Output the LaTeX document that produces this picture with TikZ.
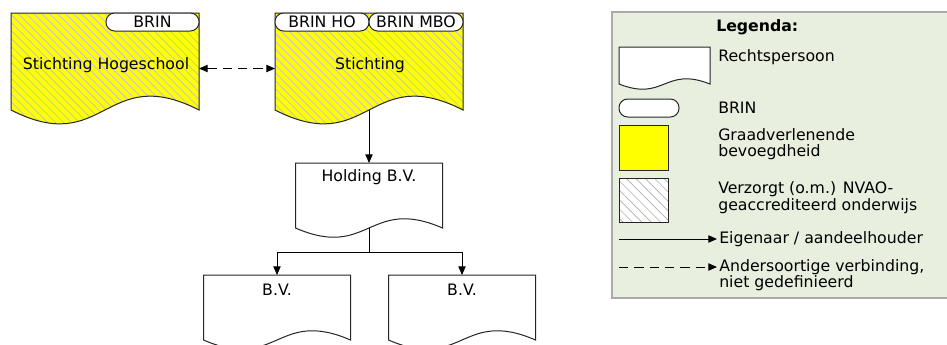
\documentclass[tikz,border=0pt]{standalone}
\usepackage{fontspec}
\setmainfont{DejaVu Sans}
\usetikzlibrary{arrows.meta,positioning,calc,patterns.meta}
\definecolor{geel}{RGB}{255,255,0}
\definecolor{arcering}{RGB}{192,192,226}
\definecolor{grijslijn}{RGB}{175,175,175}
\definecolor{legkleur}{RGB}{233,239,223}
\definecolor{legrand}{RGB}{170,170,170}
% rechtspersoon: rechthoek met golvende onderkant
\newcommand{\docvorm}[2]{(#1.north west) -- (#1.north east) -- (#1.south east)
  .. controls ($(#1.south)+(0,-#2)$) and ($(#1.south)+(0,#2)$) .. (#1.south west) -- cycle}

\begin{document}
\begin{tikzpicture}[x=0.75pt,y=-0.75pt,
    every node/.style={font=\fontsize{11.8}{12.5}\selectfont},
    vak/.style={inner sep=0pt, outer sep=0pt},
    groot/.style={vak, minimum width=141pt, minimum height=72.75pt},
    klein/.style={vak, minimum width=110.25pt, minimum height=48.75pt},
    rand/.style={draw=black!85, line width=0.75pt},
    graad/.style={rand, preaction={fill=geel}, pattern={Lines[angle=-45,distance=4.2pt,line width=0.6pt]}, pattern color=arcering},
    brin/.style={vak, rand, fill=white, rounded corners=6.5pt, minimum height=13.5pt},
    tekst/.style={anchor=west, align=left, inner sep=0pt},
    eigen/.style={line width=0.75pt, -{Triangle[length=6.5pt,width=5.5pt]}},
    anders/.style={eigen, dash pattern=on 7pt off 4.5pt},
    beide/.style={anders, {Triangle[length=6.5pt,width=5.5pt]}-{Triangle[length=6.5pt,width=5.5pt]}}]
    \useasboundingbox (0,0) rectangle (947,344);
    \clip (0,0) rectangle (947,344);
    % Boven: stichtingen
    \node[groot] (hs) at (105,61.5) {};
    \draw[graad] \docvorm{hs}{48};
    \node (hsnaam) at (106,65) {Stichting Hogeschool};
    \node[brin, minimum width=69.75pt, anchor=north east] (hsbrin) at (hs.north east) {BRIN};
    \node[groot] (st) at (369,61.5) {};
    \draw[graad] \docvorm{st}{48};
    \node (stnaam) at (370,65) {Stichting};
    \node[brin, minimum width=70.5pt, anchor=north west] (stho) at (st.north west) {BRIN HO};
    \node[brin, minimum width=70.5pt, anchor=north east] (stmbo) at (st.north east) {BRIN MBO};
    \draw[beide] ([yshift=-5.25pt]hs.east) -- ([yshift=-5.25pt]st.west);
    % Midden: holding
    \node[klein] (hold) at (369,195.5) {};
    \draw[rand, fill=white] \docvorm{hold}{32};
    \node (holdnaam) at (369,177) {Holding B.V.};
    \draw[eigen] (st.south) -- (hold.north);
    % Onder: werkmaatschappijen
    \node[klein] (bv1) at (277,307.5) {};
    \draw[rand, fill=white] \docvorm{bv1}{32};
    \node (bv1naam) at (277,290) {B.V.};
    \node[klein] (bv2) at (462,307.5) {};
    \draw[rand, fill=white] \docvorm{bv2}{32};
    \node (bv2naam) at (462,290) {B.V.};
    \coordinate (splitsing) at (369,252);
    \draw[line width=0.75pt] (hold.south) -- (splitsing);
    \draw[eigen] (splitsing) -| (bv1.north);
    \draw[eigen] (splitsing) -| (bv2.north);
    % Legenda
    \node[vak, draw=legrand, line width=1.1pt, fill=legkleur, minimum width=261pt, minimum height=214.5pt, anchor=north west] (legenda) at (612,12) {};
    \node[anchor=west, inner sep=0pt] (legtitel) at (716,27) {\textbf{Legenda:}};
    \node[vak, minimum width=68.25pt, minimum height=27.75pt] (legdoc) at (664.5,65.5) {};
    \draw[rand, fill=white] \docvorm{legdoc}{18};
    \node[tekst] (legdoctxt) at (718,57) {Rechtspersoon};
    \node[brin, minimum width=45pt] (legbrin) at (649,108) {};
    \node[tekst] (legbrintxt) at (718,108) {BRIN};
    \node[vak, rand, fill=geel, minimum width=36.75pt, minimum height=33.75pt] (leggeel) at (643.5,147.5) {};
    \node[tekst] (leggeeltxt) at (718,144) {Graadverlenende\\bevoegdheid};
    \node[vak, rand, preaction={fill=white}, pattern={Lines[angle=-45,distance=5pt,line width=0.5pt]}, pattern color=grijslijn, minimum width=36.75pt, minimum height=33pt] (legarc) at (643.5,200) {};
    \node[tekst] (legarctxt) at (718,197.5) {Verzorgt (o.m.) NVAO-\\geaccrediteerd onderwijs};
    \coordinate (eigenvan) at (619,239);
    \coordinate (eigennaar) at (717,239);
    \draw[eigen] (eigenvan) -- (eigennaar);
    \node[tekst] (legeigentxt) at (719,239) {Eigenaar / aandeelhouder};
    \coordinate (andersvan) at (619,267);
    \coordinate (andersnaar) at (717,267);
    \draw[anders] (andersvan) -- (andersnaar);
    \node[tekst] (leganderstxt) at (719,275) {Andersoortige verbinding,\\niet gedefinieerd};
\end{tikzpicture}
\end{document}
